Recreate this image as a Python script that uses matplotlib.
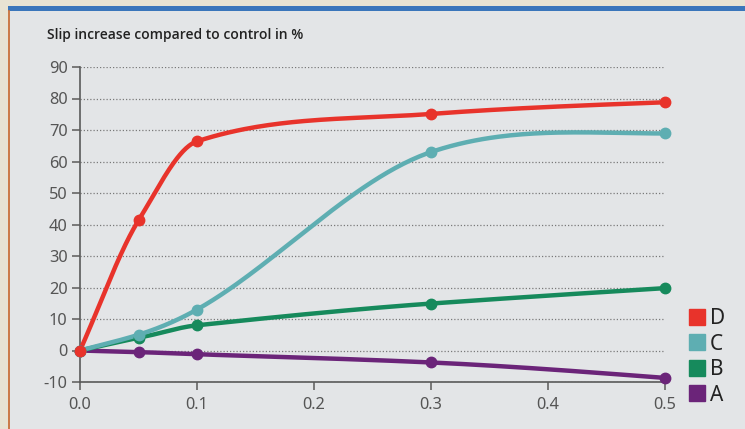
import numpy as np
import matplotlib
matplotlib.use("Agg")
import matplotlib.pyplot as plt
from matplotlib.patches import Rectangle
from matplotlib.lines import Line2D

# ---- data ----
dose = [0.0, 0.05, 0.1, 0.3, 0.5]
series_names = ["D", "C", "B", "A"]
D = [0, 41.3, 66.4, 75.1, 78.8]
C = [0, 5.0, 13.0, 63.0, 68.9]
B = [0, 4.0, 8.0, 14.9, 19.8]
A = [0, -0.5, -1.2, -3.8, -8.7]
colors = {"D": "#e8332b", "C": "#5eaeb2", "B": "#168a5c", "A": "#6b2479"}
x_ticks = [0.0, 0.1, 0.2, 0.3, 0.4, 0.5]
y_ticks = list(range(-10, 91, 10))
title = "Slip increase compared to control in %"


def smooth(x, y, n=60, tension=0.9):
    """Cardinal-style cubic Hermite curve through the points."""
    x = np.asarray(x, float)
    y = np.asarray(y, float)
    m = np.zeros_like(y)
    for i in range(1, len(x) - 1):
        m[i] = tension * (y[i + 1] - y[i - 1]) / (x[i + 1] - x[i - 1])
    d0 = (y[1] - y[0]) / (x[1] - x[0])
    d1 = (y[-1] - y[-2]) / (x[-1] - x[-2])
    m[0] = d0
    m[-1] = (3 * d1 - m[-2]) / 2
    if m[-1] * d1 < 0:
        m[-1] = 0
    xs, ys = [], []
    for i in range(len(x) - 1):
        h = x[i + 1] - x[i]
        t = np.linspace(0, 1, n)
        h00 = 2 * t**3 - 3 * t**2 + 1
        h10 = t**3 - 2 * t**2 + t
        h01 = -2 * t**3 + 3 * t**2
        h11 = t**3 - t**2
        xs.append(x[i] + t * h)
        ys.append(h00 * y[i] + h10 * h * m[i] + h01 * y[i + 1] + h11 * h * m[i + 1])
    return np.concatenate(xs), np.concatenate(ys)


W, H = 745, 429
fig = plt.figure(figsize=(W / 100, H / 100), dpi=100)
fig.patch.set_facecolor("#e7e3d3")

# panel decorations
fig.add_artist(Rectangle((9 / W, 0), 1, (H - 11) / H, transform=fig.transFigure,
                         facecolor="#e3e5e7", edgecolor="none", zorder=0))
fig.add_artist(Rectangle((8 / W, (H - 11) / H), 1, 4.5 / H, transform=fig.transFigure,
                         facecolor="#3a76bb", edgecolor="none", zorder=0))
fig.add_artist(Line2D([8.5 / W, 8.5 / W], [0, (H - 11) / H], transform=fig.transFigure,
                      color="#c8703a", lw=1.3, zorder=1))

ax = fig.add_axes([80 / W, 1 - 382 / H, 585 / W, 315 / H])
ax.set_facecolor("none")

data = {"D": D, "C": C, "B": B, "A": A}
for name in ["A", "B", "C", "D"]:
    xs, ys = smooth(dose, data[name])
    ax.plot(xs, ys, color=colors[name], lw=3.2, solid_capstyle="round", clip_on=False, zorder=3)
    ax.plot(dose, data[name], "o", color=colors[name], ms=7.5, clip_on=False, zorder=4)

ax.set_xlim(0, 0.5)
ax.set_ylim(-10, 90)
ax.set_xticks(x_ticks)
ax.set_xticklabels([f"{v:.1f}" for v in x_ticks])
ax.set_yticks(y_ticks)
ax.set_yticklabels([str(v) for v in y_ticks])
for s in ["top", "right"]:
    ax.spines[s].set_visible(False)
for s in ["left", "bottom"]:
    ax.spines[s].set_color("#5a5a5a")
    ax.spines[s].set_linewidth(1.2)
ax.tick_params(axis="both", colors="#5a5a5a", labelcolor="#555555", labelsize=11.8,
               length=6, width=1.1, direction="out")
ax.tick_params(axis="x", pad=5)
ax.tick_params(axis="y", pad=3)
for lab in ax.get_xticklabels() + ax.get_yticklabels():
    lab.set_fontfamily("Noto Sans")
ax.yaxis.grid(True, linestyle=(0, (1, 1.6)), color="#7a7a7a", lw=0.9)
ax.set_axisbelow(True)

fig.text(47 / W, 1 - 35 / H, title, fontsize=10, fontweight="semibold",
         family="Open Sans", color="#222222", va="center", ha="left")

handles = [Line2D([], [], marker="s", ls="none", color=colors[n], ms=11) for n in series_names]
leg = fig.legend(handles, series_names, loc="upper left",
                 bbox_to_anchor=(690 / W, 1 - 308 / H), frameon=False,
                 handlelength=0.7, handletextpad=0.25, labelspacing=0.22,
                 borderpad=0, borderaxespad=0,
                 prop={"family": "Noto Sans", "size": 15})
for t in leg.get_texts():
    t.set_color("#222222")

fig.savefig("out.png", dpi=100, facecolor=fig.get_facecolor())
